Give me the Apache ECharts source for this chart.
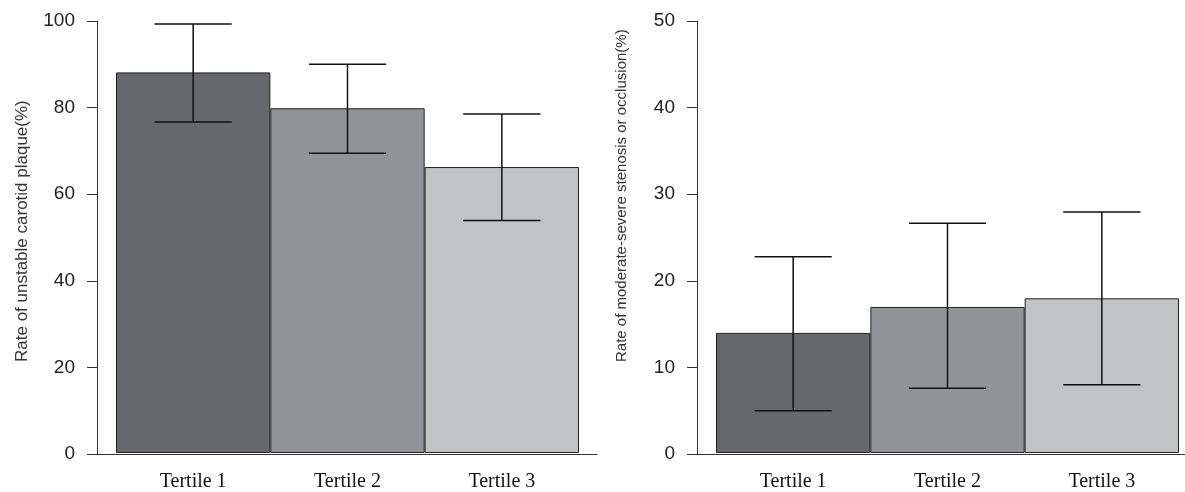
<!DOCTYPE html>
<html>
<head>
<meta charset="utf-8">
<script src="https://cdn.jsdelivr.net/npm/echarts@6/dist/echarts.min.js"></script>
<style>html,body{margin:0;padding:0;background:#fff}#c{width:1185px;height:492px}</style>
</head>
<body>
<div id="c"></div>
<script>
const categories = ['Tertile 1', 'Tertile 2', 'Tertile 3'];
const plaqueRate = [88.1, 79.8, 66.2];
const plaqueLower = [76.6, 69.4, 53.8];
const plaqueUpper = [99.3, 90.0, 78.5];
const stenosisRate = [13.9, 16.9, 17.9];
const stenosisLower = [4.9, 7.5, 7.9];
const stenosisUpper = [22.7, 26.6, 27.9];
const barColors = ['#67686c', '#939497', '#c2c3c5'];
const leftAxisMax = 100, leftAxisStep = 20;
const rightAxisMax = 50, rightAxisStep = 10;
const leftTitle = 'Rate of unstable carotid plaque(%)';
const rightTitle = 'Rate of moderate-severe stenosis or occlusion(%)';

const chart = echarts.init(document.getElementById('c'), null, {renderer: 'canvas'});

const sansFont = '"Liberation Sans", Arial, sans-serif';
const serifFont = '"Liberation Serif", "Times New Roman", serif';

function axisFrameX(gridIndex) {
  return {
    gridIndex, type: 'value', min: 0, max: 1,
    axisLine: {show: true, lineStyle: {color: '#333', width: 1}},
    axisTick: {show: false}, axisLabel: {show: false}, splitLine: {show: false}
  };
}
function catX(gridIndex) {
  return {
    gridIndex, type: 'category', data: categories,
    axisLine: {show: false}, axisTick: {show: false}, splitLine: {show: false},
    axisLabel: {show: true, color: '#111', fontFamily: serifFont, fontSize: 20, margin: 19}
  };
}
function frameY(gridIndex, max, step) {
  return {
    gridIndex, type: 'value', min: 0, max, interval: step,
    axisLine: {show: true, lineStyle: {color: '#333', width: 1}},
    axisTick: {show: true, length: 10, lineStyle: {color: '#333', width: 1}},
    axisLabel: {show: true, color: '#222', fontFamily: sansFont, fontSize: 19, margin: 22},
    splitLine: {show: false}
  };
}
function hiddenY(gridIndex, max, step) {
  return {gridIndex, type: 'value', min: 0, max, interval: step, show: false, splitLine: {show: false}};
}
function barSeries(xi, yi, values) {
  return {
    type: 'bar', xAxisIndex: xi, yAxisIndex: yi, barCategoryGap: '0%', z: 2,
    data: values.map((v, i) => ({value: v, itemStyle: {color: barColors[i]}})),
    itemStyle: {borderColor: '#222', borderWidth: 1},
    silent: true, animation: false
  };
}
function errSeries(xi, yi, lower, upper) {
  return {
    type: 'custom', xAxisIndex: xi, yAxisIndex: yi, silent: true, animation: false, z: 10,
    data: lower.map((lo, i) => [i, lo, upper[i]]),
    renderItem: function (params, api) {
      const i = api.value(0);
      const lo = api.coord([i, api.value(1)]);
      const hi = api.coord([i, api.value(2)]);
      const half = api.size([1, 0])[0] * 0.25;
      const st = {stroke: '#111', lineWidth: 1.5};
      return {type: 'group', children: [
        {type: 'line', shape: {x1: lo[0], y1: lo[1], x2: hi[0], y2: hi[1]}, style: st},
        {type: 'line', shape: {x1: lo[0] - half, y1: lo[1], x2: lo[0] + half, y2: lo[1]}, style: st},
        {type: 'line', shape: {x1: hi[0] - half, y1: hi[1], x2: hi[0] + half, y2: hi[1]}, style: st}
      ]};
    }
  };
}

chart.setOption({
  animation: false,
  backgroundColor: '#fff',
  grid: [
    {left: 97, top: 21, width: 500, height: 433},
    {left: 116, top: 21, width: 463, height: 433},
    {left: 697, top: 21, width: 488, height: 433},
    {left: 716, top: 21, width: 463, height: 433}
  ],
  xAxis: [axisFrameX(0), catX(1), axisFrameX(2), catX(3)],
  yAxis: [
    frameY(0, leftAxisMax, leftAxisStep), hiddenY(1, leftAxisMax, leftAxisStep),
    frameY(2, rightAxisMax, rightAxisStep), hiddenY(3, rightAxisMax, rightAxisStep)
  ],
  series: [
    barSeries(1, 1, plaqueRate), errSeries(1, 1, plaqueLower, plaqueUpper),
    barSeries(3, 3, stenosisRate), errSeries(3, 3, stenosisLower, stenosisUpper)
  ],
  graphic: [
    {type: 'text', x: 22, y: 362, rotation: Math.PI / 2, silent: true,
     style: {text: leftTitle, fill: '#333', font: '17px ' + sansFont, textAlign: 'left', textVerticalAlign: 'middle'}},
    {type: 'text', x: 622, y: 362, rotation: Math.PI / 2, silent: true,
     style: {text: rightTitle, fill: '#333', font: '15px ' + sansFont, textAlign: 'left', textVerticalAlign: 'middle'}}
  ]
});
</script>
</body>
</html>
